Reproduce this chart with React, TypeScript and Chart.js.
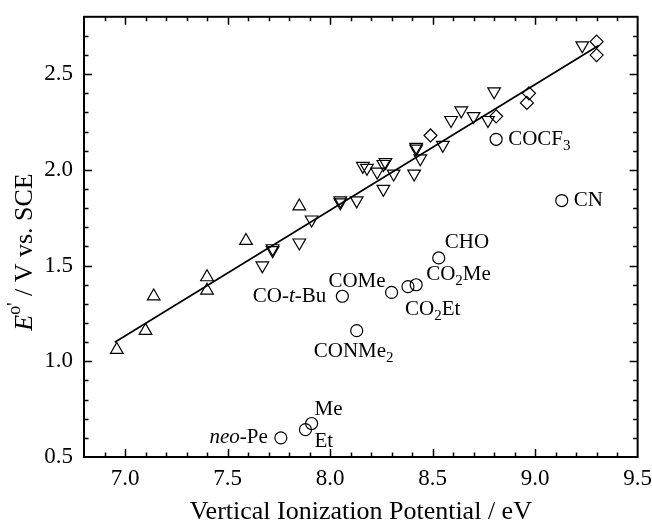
import React, { useEffect, useRef } from "react";
import { Chart, registerables } from "chart.js";

Chart.register(...registerables);

// ---- data (x: vertical IP / eV, y: E / V vs SCE) ----
const upTriX = [6.96, 7.10, 7.14, 7.40, 7.40, 7.59, 7.85];
const upTriY = [1.06, 1.16, 1.34, 1.44, 1.37, 1.63, 1.81];

const downTriX = [7.67, 7.72, 7.72, 7.85, 7.91, 8.05, 8.05, 8.13, 8.16, 8.18, 8.23, 8.27, 8.26, 8.26, 8.31, 8.41, 8.42, 8.42, 8.44, 8.55, 8.59, 8.64, 8.70, 8.77, 8.80, 9.23];
const downTriY = [1.50, 1.58, 1.59, 1.62, 1.74, 1.83, 1.84, 1.84, 2.02, 2.01, 1.99, 2.04, 2.03, 1.90, 1.98, 1.98, 2.12, 2.11, 2.06, 2.13, 2.26, 2.31, 2.28, 2.26, 2.41, 2.65];

const diamondX = [8.49, 8.81, 8.96, 8.97, 9.30, 9.30];
const diamondY = [2.18, 2.28, 2.35, 2.40, 2.67, 2.60];

const circleNames = ["COCF3", "CN", "CHO", "CO2Me", "CO2Et", "COMe", "CO-t-Bu", "CONMe2", "Me", "Et", "neo-Pe"];
const circleX = [8.81, 9.13, 8.53, 8.42, 8.38, 8.30, 8.06, 8.13, 7.91, 7.88, 7.76];
const circleY = [2.16, 1.84, 1.54, 1.40, 1.39, 1.36, 1.34, 1.16, 0.675, 0.643, 0.60];

const fitX = [6.95, 9.31];
const fitY = [1.10, 2.65];

const xMin = 6.8, xMax = 9.5, yMin = 0.5, yMax = 2.8;
const minorStep = 0.1;

// rich text segments for labels: [text, style]
type Seg = [string, string?];
const labelSegs: Record<string, Seg[]> = {
  "COCF3": [["COCF"], ["3", "sub"]],
  "CN": [["CN"]],
  "CHO": [["CHO"]],
  "CO2Me": [["CO"], ["2", "sub"], ["Me"]],
  "CO2Et": [["CO"], ["2", "sub"], ["Et"]],
  "COMe": [["COMe"]],
  "CO-t-Bu": [["CO-"], ["t", "it"], ["-Bu"]],
  "CONMe2": [["CONMe"], ["2", "sub"]],
  "Me": [["Me"]],
  "Et": [["Et"]],
  "neo-Pe": [["neo", "it"], ["-Pe"]],
};
// label placement relative to marker centre (px): dx, dy, align
const labelPlace: Record<string, [number, number, string]> = {
  "COCF3": [12, 0, "left"],
  "CN": [12, 0, "left"],
  "CHO": [6, -15, "left"],
  "CO2Me": [10, -10, "left"],
  "CO2Et": [-3, 23, "left"],
  "COMe": [-6, -11, "right"],
  "CO-t-Bu": [-16, 0, "right"],
  "CONMe2": [-43, 21, "left"],
  "Me": [3, -14, "left"],
  "Et": [9, 12, "left"],
  "neo-Pe": [-13, 0, "right"],
};

const FONT = '"Liberation Serif", "Times New Roman", serif';

function segFont(style: string | undefined, size: number) {
  const small = style === "sub" || style === "sup";
  const s = small ? Math.round(size * 0.7) : size;
  return `${style === "it" ? "italic " : ""}${s}px ${FONT}`;
}

function drawRich(ctx: CanvasRenderingContext2D, segs: Seg[], x: number, y: number, align: string, size: number) {
  ctx.save();
  ctx.textBaseline = "middle";
  ctx.textAlign = "left";
  let total = 0;
  const widths = segs.map(([t, st]) => {
    ctx.font = segFont(st, size);
    const w = ctx.measureText(t).width;
    total += w;
    return w;
  });
  let cx = align === "right" ? x - total : align === "center" ? x - total / 2 : x;
  segs.forEach(([t, st], i) => {
    ctx.font = segFont(st, size);
    let dy = 0;
    if (st === "sub") dy = size * 0.32;
    if (st === "sup") dy = -size * 0.38;
    ctx.fillText(t, cx, y + dy);
    cx += widths[i];
  });
  ctx.restore();
}

const isMajor = (v: number) => Math.abs(Math.round(v * 10) % 5) === 0;

const framePlugin = {
  id: "frameTicks",
  afterDraw(chart: any) {
    const ctx: CanvasRenderingContext2D = chart.ctx;
    const { left, right, top, bottom } = chart.chartArea;
    const xs = chart.scales.x, ys = chart.scales.y;
    ctx.save();
    ctx.strokeStyle = "#000";
    ctx.lineWidth = 1.5;
    ctx.beginPath();
    xs.ticks.forEach((t: any) => {
      const px = Math.round(xs.getPixelForValue(t.value)) + 0.5;
      if (px <= left + 1 || px >= right - 1) return;
      const len = isMajor(t.value) ? 8 : 4.5;
      ctx.moveTo(px, bottom); ctx.lineTo(px, bottom - len);
      ctx.moveTo(px, top); ctx.lineTo(px, top + len);
    });
    ys.ticks.forEach((t: any) => {
      const py = Math.round(ys.getPixelForValue(t.value)) + 0.5;
      if (py <= top + 1 || py >= bottom - 1) return;
      const len = isMajor(t.value) ? 8 : 4.5;
      ctx.moveTo(left, py); ctx.lineTo(left + len, py);
      ctx.moveTo(right, py); ctx.lineTo(right - len, py);
    });
    ctx.stroke();
    ctx.lineWidth = 2;
    ctx.strokeRect(left, top, right - left, bottom - top);
    ctx.restore();

    // point labels
    ctx.save();
    ctx.fillStyle = "#000";
    circleNames.forEach((name, i) => {
      const px = xs.getPixelForValue(circleX[i]);
      const py = ys.getPixelForValue(circleY[i]);
      const [dx, dy, al] = labelPlace[name];
      drawRich(ctx, labelSegs[name], px + dx, py + dy, al, 21);
    });
    ctx.restore();

    // axis titles
    ctx.save();
    ctx.fillStyle = "#000";
    drawRich(ctx, [["Vertical Ionization Potential / eV"]], (left + right) / 2, 512, "center", 26);
    ctx.translate(25, 252);
    ctx.rotate(-Math.PI / 2);
    drawRich(ctx, [["E", "it"], ["o'", "sup"], [" / V vs. SCE"]], 0, 0, "center", 26);
    ctx.restore();
  },
};

const pts = (xs: number[], ys: number[]) => xs.map((x, i) => ({ x, y: ys[i] }));

export default function App() {
  const ref = useRef<HTMLCanvasElement>(null);
  useEffect(() => {
    if (!ref.current) return;
    const markerCommon = {
      borderColor: "#000",
      backgroundColor: "rgba(0,0,0,0)",
      borderWidth: 1.2,
      showLine: false,
    };
    const tickCb = (v: any) => (isMajor(Number(v)) ? Number(v).toFixed(1) : "");
    const chart = new Chart(ref.current, {
      type: "scatter",
      data: {
        datasets: [
          {
            type: "line",
            data: pts(fitX, fitY),
            borderColor: "#000",
            borderWidth: 1.7,
            pointRadius: 0,
            fill: false,
          } as any,
          { ...markerCommon, data: pts(upTriX, upTriY), pointStyle: "triangle", pointRadius: 7.3 },
          { ...markerCommon, data: pts(downTriX, downTriY), pointStyle: "triangle", rotation: 180, pointRadius: 7.3 },
          { ...markerCommon, data: pts(diamondX, diamondY), pointStyle: "rectRot", pointRadius: 6.5 },
          { ...markerCommon, data: pts(circleX, circleY), pointStyle: "circle", pointRadius: 6 },
        ],
      },
      options: {
        responsive: false,
        animation: false,
        events: [],
        layout: { padding: { top: 13, right: 14, left: 0, bottom: 0 } },
        plugins: { legend: { display: false }, tooltip: { enabled: false } },
        scales: {
          x: {
            type: "linear",
            min: xMin,
            max: xMax,
            grid: { display: false },
            border: { display: false },
            ticks: {
              stepSize: minorStep,
              autoSkip: false,
              maxRotation: 0,
              maxTicksLimit: 100,
              padding: 0,
              color: "#000",
              font: { family: FONT, size: 23 },
              callback: tickCb,
            },
            afterFit: (s: any) => { s.height = 72; },
          },
          y: {
            type: "linear",
            min: yMin,
            max: yMax,
            grid: { display: false },
            border: { display: false },
            ticks: {
              stepSize: minorStep,
              autoSkip: false,
              maxTicksLimit: 100,
              padding: 3,
              color: "#000",
              font: { family: FONT, size: 23 },
              callback: tickCb,
            },
            afterFit: (s: any) => { s.width = 84; },
          },
        },
      },
      plugins: [framePlugin],
    } as any);
    return () => chart.destroy();
  }, []);
  return (
    <div style={{ position: "absolute", left: 0, top: 0, width: 652, height: 529, background: "#fff" }}>
      <canvas ref={ref} width={652} height={529} style={{ width: 652, height: 529, display: "block" }} />
    </div>
  );
}
